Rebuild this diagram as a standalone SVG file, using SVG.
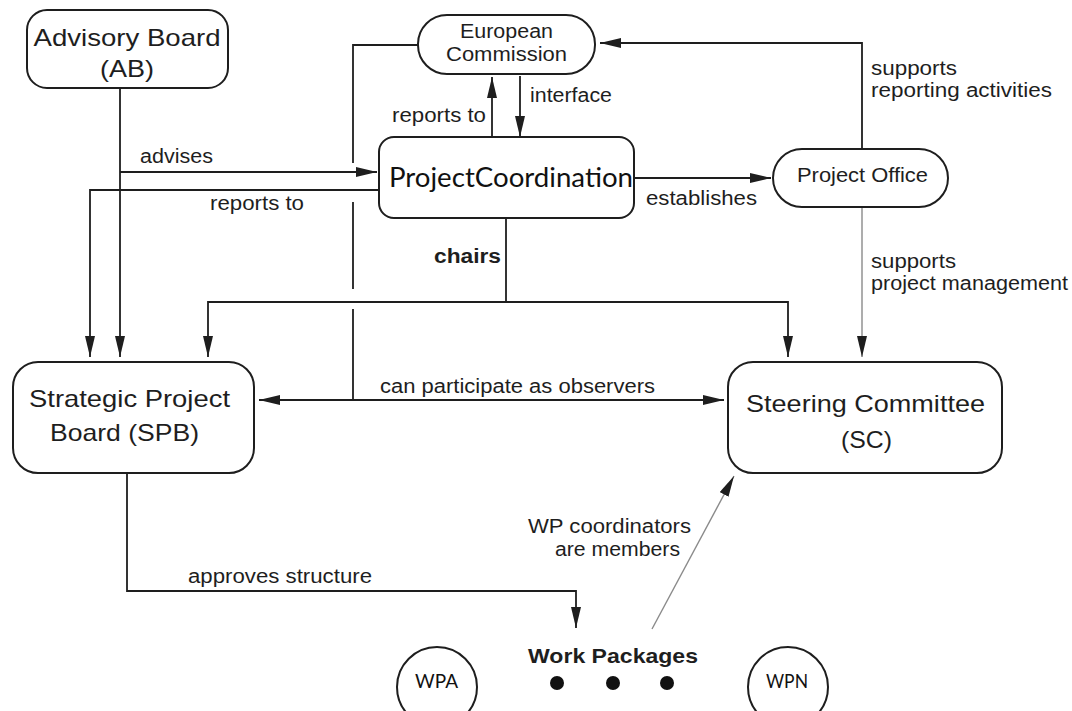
<svg xmlns="http://www.w3.org/2000/svg" width="1072" height="711" viewBox="0 0 1072 711">
<style>
.box{fill:#fff;stroke:#1e1e1e;stroke-width:2}
.ln{fill:none;stroke:#1e1e1e;stroke-width:1.8}
.gl{fill:none;stroke:#8a8a8a;stroke-width:1.4}
.t{font-family:"Liberation Sans",Arial,sans-serif;fill:#1e1e1e}
.n{font-size:24px}
.s{font-size:20px}
.l{font-size:20px}
.b{font-weight:bold}
.c{font-family:Lato,"Noto Sans",sans-serif;fill:#111}
</style>
<defs>
<marker id="ah" markerUnits="userSpaceOnUse" markerWidth="22" markerHeight="12" refX="21" refY="5" orient="auto">
<path d="M0,0 L21,5 L0,10 z" fill="#1e1e1e"/>
</marker>
<marker id="ahs" markerUnits="userSpaceOnUse" markerWidth="22" markerHeight="12" refX="0" refY="5" orient="auto">
<path d="M21,0 L0,5 L21,10 z" fill="#1e1e1e"/>
</marker>
<marker id="ahg" markerUnits="userSpaceOnUse" markerWidth="22" markerHeight="12" refX="21" refY="5" orient="auto">
<path d="M0,0 L21,5 L0,10 z" fill="#1e1e1e"/>
</marker>
</defs>

<g id="connectors">
<!-- AB to SPB -->
<path class="ln" d="M120,88 V357" marker-end="url(#ah)"/>
<!-- advises -->
<path class="ln" d="M120,172 H377" marker-end="url(#ah)"/>
<!-- PC reports to SPB -->
<path class="ln" d="M379,190 H90 V357" marker-end="url(#ah)"/>
<!-- EC line down to observers, with jumps -->
<path class="ln" d="M418,45 H353 V163 M353,202 V289 M353,309 V400"/>
<!-- PC reports to EC -->
<path class="ln" d="M492,137 V77" marker-end="url(#ah)"/>
<!-- interface -->
<path class="ln" d="M520,76 V137" marker-end="url(#ah)"/>
<!-- establishes -->
<path class="ln" d="M634,178 H771" marker-end="url(#ah)"/>
<!-- PO supports reporting -->
<path class="ln" d="M862,149 V43 H600" marker-end="url(#ah)"/>
<!-- chairs -->
<path class="ln" d="M506,218 V302"/>
<path class="ln" d="M506,302 H208 V357" marker-end="url(#ah)"/>
<path class="ln" d="M506,302 H788 V357" marker-end="url(#ah)"/>
<!-- PO supports project management -->
<path class="gl" d="M862,207 V357" marker-end="url(#ahg)"/>
<!-- can participate as observers -->
<path class="ln" d="M259,400 H724" marker-start="url(#ahs)" marker-end="url(#ah)"/>
<!-- approves structure -->
<path class="ln" d="M127,473 V591 H576 V628" marker-end="url(#ah)"/>
<!-- WP coordinators -->
<path class="gl" d="M652,629 L734,476" marker-end="url(#ahg)"/>
</g>

<g id="label-texts" class="t l">
<text x="140" y="163" textLength="73" lengthAdjust="spacingAndGlyphs">advises</text>
<text x="210" y="210" textLength="94" lengthAdjust="spacingAndGlyphs">reports to</text>
<text x="392" y="122" textLength="94" lengthAdjust="spacingAndGlyphs">reports to</text>
<text x="530" y="102" textLength="82" lengthAdjust="spacingAndGlyphs">interface</text>
<text x="646" y="205" textLength="111" lengthAdjust="spacingAndGlyphs">establishes</text>
<text x="871" y="75" textLength="86" lengthAdjust="spacingAndGlyphs">supports</text>
<text x="871" y="97" textLength="181" lengthAdjust="spacingAndGlyphs">reporting activities</text>
<text x="871" y="268" textLength="85" lengthAdjust="spacingAndGlyphs">supports</text>
<text x="871" y="290" textLength="197" lengthAdjust="spacingAndGlyphs">project management</text>
<text x="434" y="263" class="b" textLength="67" lengthAdjust="spacingAndGlyphs">chairs</text>
<text x="380" y="393" textLength="275" lengthAdjust="spacingAndGlyphs">can participate as observers</text>
<text x="188" y="583" textLength="184" lengthAdjust="spacingAndGlyphs">approves structure</text>
<text x="528" y="533" textLength="163" lengthAdjust="spacingAndGlyphs">WP coordinators</text>
<text x="555" y="556" textLength="125" lengthAdjust="spacingAndGlyphs">are members</text>
</g>

<g id="advisory-board">
<rect class="box" x="27" y="10" width="201" height="78" rx="20"/>
<text class="t n" x="127" y="46" text-anchor="middle" textLength="187" lengthAdjust="spacingAndGlyphs">Advisory Board</text>
<text class="t n" x="127" y="77" text-anchor="middle" textLength="54" lengthAdjust="spacingAndGlyphs">(AB)</text>
</g>

<g id="european-commission">
<rect class="box" x="418" y="15" width="177" height="59" rx="29"/>
<text class="t s" x="506.5" y="38" text-anchor="middle" textLength="93" lengthAdjust="spacingAndGlyphs">European</text>
<text class="t s" x="506.5" y="61" text-anchor="middle" textLength="121" lengthAdjust="spacingAndGlyphs">Commission</text>
</g>

<g id="project-coordination">
<rect class="box" x="379" y="137" width="255" height="81" rx="15"/>
<text class="c" x="389" y="187" font-size="27" textLength="244" lengthAdjust="spacingAndGlyphs">ProjectCoordination</text>
</g>

<g id="project-office">
<rect class="box" x="773" y="149" width="175" height="58" rx="29"/>
<text class="t s" x="862.5" y="182" text-anchor="middle" textLength="131" lengthAdjust="spacingAndGlyphs">Project Office</text>
</g>

<g id="strategic-project-board">
<rect class="box" x="13" y="362" width="241" height="111" rx="25"/>
<text class="t n" x="129.5" y="407" text-anchor="middle" textLength="201" lengthAdjust="spacingAndGlyphs">Strategic Project</text>
<text class="t n" x="124.5" y="441" text-anchor="middle" textLength="149" lengthAdjust="spacingAndGlyphs">Board (SPB)</text>
</g>

<g id="steering-committee">
<rect class="box" x="728" y="362" width="274" height="111" rx="25"/>
<text class="t n" x="865.5" y="412" text-anchor="middle" textLength="239" lengthAdjust="spacingAndGlyphs">Steering Committee</text>
<text class="t n" x="866.5" y="448" text-anchor="middle" textLength="51" lengthAdjust="spacingAndGlyphs">(SC)</text>
</g>

<g id="work-packages">
<text class="t b" x="528" y="663" font-size="21" textLength="170" lengthAdjust="spacingAndGlyphs">Work Packages</text>
<circle cx="557" cy="683" r="7" fill="#111"/>
<circle cx="613" cy="683" r="7" fill="#111"/>
<circle cx="667" cy="683" r="7" fill="#111"/>
</g>

<g id="wpa">
<circle class="box" cx="437" cy="687" r="40" stroke-width="1.6"/>
<text class="c" x="436.5" y="688" font-size="19" text-anchor="middle" textLength="43" lengthAdjust="spacingAndGlyphs">WPA</text>
</g>

<g id="wpn">
<circle class="box" cx="788" cy="687" r="40" stroke-width="1.6"/>
<text class="c" x="787" y="688" font-size="19" text-anchor="middle" textLength="42" lengthAdjust="spacingAndGlyphs">WPN</text>
</g>
</svg>
